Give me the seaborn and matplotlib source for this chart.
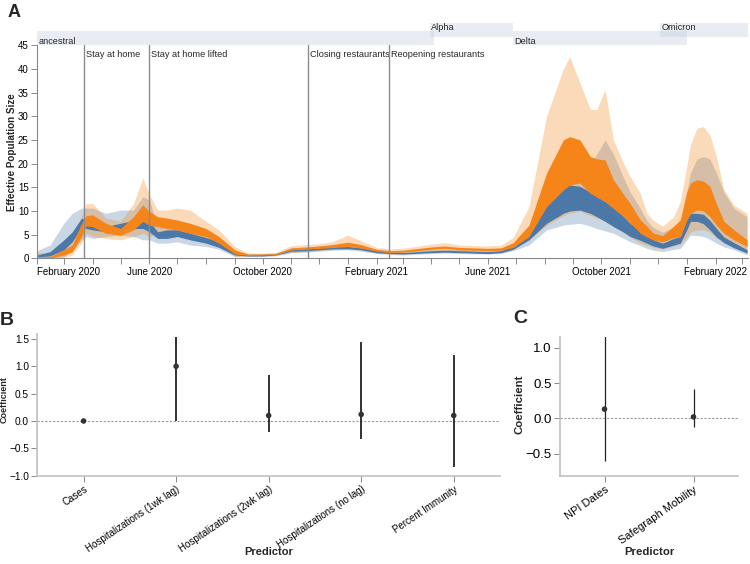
import numpy as np
import pandas as pd
import matplotlib
matplotlib.use("Agg")
import matplotlib.pyplot as plt
import matplotlib.dates as mdates
import seaborn as sns

sns.set_theme(style="ticks")
plt.rcParams['font.family'] = ['Liberation Sans', 'DejaVu Sans']

# ---- panel A data: effective population size bands ----
dates = [
    "2020-02-01", "2020-02-15", "2020-03-01", "2020-03-10", "2020-03-20", "2020-03-25",
    "2020-04-01", "2020-04-15", "2020-05-01", "2020-05-15", "2020-05-25", "2020-06-01",
    "2020-06-10", "2020-06-20", "2020-07-01", "2020-07-15", "2020-08-01", "2020-08-15",
    "2020-09-01", "2020-09-15", "2020-10-01", "2020-10-15", "2020-11-01", "2020-11-18",
    "2020-12-01", "2020-12-15", "2021-01-01", "2021-01-15", "2021-02-01", "2021-02-15",
    "2021-03-01", "2021-04-01", "2021-04-15", "2021-05-01", "2021-06-01", "2021-06-15",
    "2021-06-28", "2021-07-15", "2021-08-03", "2021-08-21", "2021-08-28", "2021-09-08",
    "2021-09-19", "2021-09-26", "2021-10-05", "2021-10-14", "2021-10-25", "2021-11-01",
    "2021-11-12", "2021-11-19", "2021-11-26", "2021-12-06", "2021-12-18", "2021-12-25",
    "2022-01-01", "2022-01-05", "2022-01-12", "2022-01-19", "2022-01-26", "2022-02-02",
    "2022-02-10", "2022-02-21", "2022-03-07",
]
blue_lo95 = [0.0, 0.0, 0.35, 1.4, 3.9, 4.6, 4.2, 4.6, 4.9, 4.6, 3.9, 3.9,
             3.2, 3.2, 3.5, 2.8, 2.5, 1.9, 0.35, 0.4, 0.4, 0.5, 1.2, 1.3,
             1.5, 1.7, 1.8, 1.5, 1.0, 0.8, 0.7, 1.0, 1.1, 1.0, 0.9, 1.0,
             1.6, 2.8, 6.0, 7.0, 7.2, 7.4, 6.8, 6.3, 5.8, 5.3, 4.2, 3.5,
             2.7, 2.1, 1.7, 1.4, 1.9, 2.1, 3.8, 4.9, 4.8, 4.6, 4.0, 3.2,
             2.4, 1.8, 0.7]
blue_lo50 = [0.3, 0.5, 1.8, 3.5, 6.7, 6.3, 6.0, 5.6, 6.0, 6.3, 6.3, 5.6,
             4.2, 4.2, 4.6, 3.9, 3.2, 2.3, 0.7, 0.5, 0.5, 0.7, 1.5, 1.6,
             1.8, 2.0, 2.0, 1.8, 1.2, 1.0, 0.9, 1.2, 1.3, 1.2, 1.0, 1.2,
             1.9, 3.9, 7.4, 9.5, 10.0, 10.2, 9.5, 8.8, 7.8, 6.7, 5.5, 4.6,
             3.8, 3.2, 2.6, 2.1, 2.8, 3.2, 6.0, 7.8, 7.8, 7.3, 6.0, 4.5,
             3.3, 2.2, 1.1]
blue_hi50 = [0.7, 1.4, 3.9, 5.6, 8.5, 8.0, 7.0, 6.7, 7.4, 8.0, 8.1, 7.8,
             5.6, 6.0, 6.0, 5.3, 4.4, 3.5, 1.4, 0.8, 0.8, 0.9, 1.8, 2.0,
             2.2, 2.4, 2.5, 2.2, 1.6, 1.4, 1.2, 1.6, 1.7, 1.6, 1.4, 1.6,
             2.6, 4.9, 12.3, 15.2, 15.5, 15.2, 14.0, 13.0, 12.0, 10.9, 8.8, 7.4,
             5.8, 4.6, 3.9, 3.2, 4.2, 4.6, 8.2, 9.5, 9.5, 9.3, 8.0, 6.3,
             4.5, 3.3, 1.8]
blue_hi95 = [1.6, 2.8, 7.4, 9.5, 10.6, 10.6, 10.6, 9.5, 10.2, 10.2, 13.0, 12.3,
             6.7, 7.0, 6.7, 5.6, 4.9, 4.0, 1.55, 1.0, 1.0, 1.1, 2.2, 2.4,
             2.6, 2.8, 2.8, 2.5, 1.9, 1.6, 1.4, 1.9, 2.0, 1.9, 1.7, 1.9,
             3.0, 6.0, 14.4, 16.6, 17.0, 17.5, 20.0, 22.0, 25.0, 22.0, 17.0, 14.0,
             10.5, 8.0, 6.5, 5.5, 6.5, 7.5, 14.0, 18.0, 21.0, 21.5, 21.0, 18.0,
             14.0, 10.5, 8.8]
orange_lo95 = [0.0, 0.0, 0.2, 0.7, 3.2, 5.3, 4.6, 4.2, 3.9, 4.6, 5.3, 4.6,
               5.3, 5.3, 4.9, 4.6, 3.5, 2.5, 0.5, 0.4, 0.5, 0.6, 1.2, 1.4,
               1.6, 1.8, 2.1, 1.8, 1.1, 0.9, 1.0, 1.5, 1.6, 1.4, 1.0, 1.3,
               1.9, 3.9, 7.0, 9.0, 9.5, 10.0, 9.0, 8.5, 8.0, 7.0, 5.5, 4.5,
               3.2, 2.8, 2.3, 2.0, 2.6, 2.9, 4.5, 5.5, 6.0, 6.0, 5.5, 4.3,
               3.4, 2.5, 1.5]
orange_lo50 = [0.0, 0.1, 0.7, 1.4, 4.6, 6.8, 6.7, 5.3, 4.9, 6.0, 7.8, 7.0,
               6.7, 6.3, 6.0, 5.3, 4.6, 3.2, 0.9, 0.6, 0.7, 0.8, 1.8, 2.0,
               2.1, 2.3, 2.5, 2.2, 1.5, 1.2, 1.3, 1.9, 2.1, 1.8, 1.6, 1.7,
               2.3, 4.6, 10.9, 14.4, 15.5, 15.9, 13.7, 13.0, 12.0, 10.5, 8.8, 7.5,
               5.3, 4.5, 3.9, 3.5, 4.4, 4.6, 8.0, 9.5, 10.2, 10.0, 8.8, 7.0,
               5.3, 3.9, 2.5]
orange_hi50 = [0.3, 0.35, 1.8, 2.8, 7.4, 9.0, 9.2, 7.4, 6.3, 8.8, 11.3, 9.9,
               8.8, 8.5, 8.1, 7.4, 6.3, 4.6, 1.8, 0.9, 0.9, 1.0, 2.2, 2.4,
               2.6, 2.9, 3.4, 2.9, 1.9, 1.6, 1.7, 2.4, 2.6, 2.3, 2.1, 2.2,
               3.3, 7.0, 18.0, 25.0, 25.7, 25.0, 21.5, 21.0, 20.8, 16.6, 13.5, 11.6,
               8.1, 6.8, 5.3, 4.8, 6.8, 8.1, 14.0, 15.9, 16.6, 16.3, 15.2, 11.5,
               7.8, 6.0, 3.9]
orange_hi95 = [1.2, 1.0, 2.8, 4.2, 8.8, 11.5, 11.6, 8.5, 7.8, 11.6, 17.0, 13.5,
               10.2, 10.2, 10.6, 10.2, 7.8, 6.0, 2.5, 1.1, 1.1, 1.2, 2.7, 2.9,
               3.1, 3.5, 4.9, 3.7, 2.3, 2.0, 2.1, 3.0, 3.3, 2.8, 2.6, 2.8,
               4.4, 10.9, 30.0, 40.0, 42.6, 37.0, 31.5, 31.4, 35.6, 25.0, 20.0, 17.3,
               13.7, 9.5, 8.0, 6.8, 8.8, 12.0, 19.4, 24.0, 27.5, 27.8, 26.0, 21.5,
               14.5, 11.2, 9.5]
date_end = "2022-03-08"

events = ["Stay at home", "Stay at home lifted", "Closing restaurants", "Reopening restaurants"]
event_dates = ["2020-03-23", "2020-06-01", "2020-11-19", "2021-02-14"]

variants = ["ancestral", "Alpha", "Delta", "Omicron"]
variant_start = ["2020-02-01", "2021-03-30", "2021-06-28", "2021-12-03"]
variant_end = ["2021-04-04", "2021-06-28", "2022-01-01", "2022-03-08"]
variant_row = [2, 1, 2, 1]

# ---- panels B and C: regression coefficients ----
predictors_b = ["Cases", "Hospitalizations (1wk lag)", "Hospitalizations (2wk lag)",
                "Hospitalizations (no lag)", "Percent Immunity"]
coef_b = [0.0, 1.0, 0.10, 0.12, 0.10]
lo_b = [-0.01, 0.0, -0.21, -0.33, -0.85]
hi_b = [0.01, 1.53, 0.84, 1.44, 1.20]

predictors_c = ["NPI Dates", "Safegraph Mobility"]
coef_c = [0.13, 0.02]
lo_c = [-0.61, -0.12]
hi_c = [1.16, 0.41]

BLUE = "#4c78a8"
ORANGE = "#f58518"
AXC = "#888888"


def box(l, t, r, b):
    # pixel box -> figure fraction
    return [l / 750, 1 - b / 564, (r - l) / 750, (b - t) / 564]


def style_axis(ax, color=AXC, lw=0.8, size=7):
    for s in ["top", "right"]:
        ax.spines[s].set_visible(False)
    for s in ["left", "bottom"]:
        ax.spines[s].set_color(color)
        ax.spines[s].set_linewidth(lw)
    ax.tick_params(colors=AXC, labelcolor="black", length=4, width=0.7,
                   labelsize=size, pad=2)


fig = plt.figure(figsize=(7.5, 5.64), dpi=100)

# ---------- A ----------
df = pd.DataFrame({
    "date": pd.to_datetime(dates),
    "blue_lo95": blue_lo95, "blue_hi95": blue_hi95,
    "blue_lo50": blue_lo50, "blue_hi50": blue_hi50,
    "orange_lo95": orange_lo95, "orange_hi95": orange_hi95,
    "orange_lo50": orange_lo50, "orange_hi50": orange_hi50,
})

axA = fig.add_axes(box(37, 45.3, 748, 258.3))
axA.fill_between(df["date"], df["blue_lo95"], df["blue_hi95"], color=BLUE, alpha=0.3, lw=0)
axA.fill_between(df["date"], df["orange_lo95"], df["orange_hi95"], color=ORANGE, alpha=0.3, lw=0)
axA.fill_between(df["date"], df["blue_lo50"], df["blue_hi50"], color=BLUE, lw=0)
axA.fill_between(df["date"], df["orange_lo50"], df["orange_hi50"], color=ORANGE, lw=0)

x0 = pd.Timestamp(dates[0])
x1 = pd.Timestamp(date_end)
axA.set_xlim(x0, x1)
axA.set_ylim(0, 45)
axA.set_yticks(np.arange(0, 46, 5))
style_axis(axA)

months = pd.date_range("2020-02-01", "2022-03-01", freq="MS")
axA.set_xticks(months)
axA.set_xticklabels([m.strftime("%B %Y") if m.month in (2, 6, 10) else "" for m in months])
axA.get_xticklabels()[0].set_ha("left")
axA.set_xlabel("")
axA.set_ylabel("Effective Population Size", fontsize=7.1, fontweight="bold")
axA.yaxis.set_label_coords(-0.028, 0.5)

for name, d in zip(events, event_dates):
    axA.axvline(pd.Timestamp(d), color="#8c8c8c", lw=1.0, zorder=3)
    axA.annotate(name, xy=(pd.Timestamp(d), 0.955), xycoords=("data", "axes fraction"),
                 xytext=(1.5, 0), textcoords="offset points", fontsize=6.6,
                 va="center", ha="left")

# variant strip above panel A
axV = fig.add_axes(box(37, 18, 748, 45.3))
axV.set_xlim(mdates.date2num(x0), mdates.date2num(x1))
axV.set_ylim(45.3, 18)
axV.axis("off")
for name, s, e, row in zip(variants, variant_start, variant_end, variant_row):
    s_num = mdates.date2num(pd.Timestamp(s))
    e_num = mdates.date2num(pd.Timestamp(e))
    yc = 30 if row == 1 else 38
    axV.barh(yc, e_num - s_num, left=s_num, height=14, color="#b8c5da", alpha=0.3, lw=0)
    axV.text(s_num + 1.5, 30.2 if row == 1 else 44.2, name, fontsize=6.6,
             va="baseline", ha="left")

fig.text(8 / 750, 1 - 17 / 564, "A", fontsize=13, fontweight="bold", va="baseline")

# ---------- B ----------
dfb = pd.DataFrame({"predictor": predictors_b, "coef": coef_b, "lo": lo_b, "hi": hi_b})
axB = fig.add_axes(box(37.3, 334, 500, 475.7))
axB.axhline(0, color="#999999", lw=0.8, ls=(0, (2, 1.5)), zorder=1)
sns.scatterplot(data=dfb, x="predictor", y="coef", ax=axB, color="#333333", s=16,
                edgecolor="none", zorder=4)
axB.vlines(dfb["predictor"], dfb["lo"], dfb["hi"], color="#222222", lw=1.3, zorder=3)
axB.set_xlim(-0.5, 4.5)
axB.set_ylim(-1.0, 1.59)
axB.set_yticks([-1.0, -0.5, 0.0, 0.5, 1.0, 1.5])
style_axis(axB, color="#c0c0c0", lw=1.2, size=7.3)
axB.set_xticks(range(len(predictors_b)))
axB.set_xticklabels(predictors_b, rotation=34, ha="right", rotation_mode="anchor",
                    fontsize=7.0)
axB.set_xlabel("Predictor", fontsize=8, fontweight="bold")
axB.xaxis.set_label_coords(0.5, -0.5)
axB.set_ylabel("Coefficient", fontsize=6.5, fontweight="bold")
axB.yaxis.set_label_coords(-0.063, 0.534)
fig.text(0 / 750, 1 - 325 / 564, "B", fontsize=14, fontweight="bold", va="baseline")

# ---------- C ----------
dfc = pd.DataFrame({"predictor": predictors_c, "coef": coef_c, "lo": lo_c, "hi": hi_c})
axC = fig.add_axes(box(560, 336.7, 738, 476))
axC.axhline(0, color="#999999", lw=0.8, ls=(0, (2, 1.5)), zorder=1)
sns.scatterplot(data=dfc, x="predictor", y="coef", ax=axC, color="#333333", s=16,
                edgecolor="none", zorder=4)
axC.vlines(dfc["predictor"], dfc["lo"], dfc["hi"], color="#222222", lw=0.9, zorder=3)
axC.set_xlim(-0.5, 1.5)
axC.set_ylim(-0.817, 1.156)
axC.set_yticks([-0.5, 0.0, 0.5, 1.0])
style_axis(axC, color="#c0c0c0", lw=1.2, size=9.5)
axC.set_xticks(range(len(predictors_c)))
axC.set_xticklabels(predictors_c, rotation=35, ha="right", rotation_mode="anchor",
                    fontsize=8)
axC.set_xlabel("Predictor", fontsize=8.2, fontweight="bold")
axC.xaxis.set_label_coords(0.5, -0.51)
axC.set_ylabel("Coefficient", fontsize=8.2, fontweight="bold")
axC.yaxis.set_label_coords(-0.197, 0.517)
fig.text(513 / 750, 1 - 323 / 564, "C", fontsize=14, fontweight="bold", va="baseline")

fig.savefig("out.png", dpi=100)
